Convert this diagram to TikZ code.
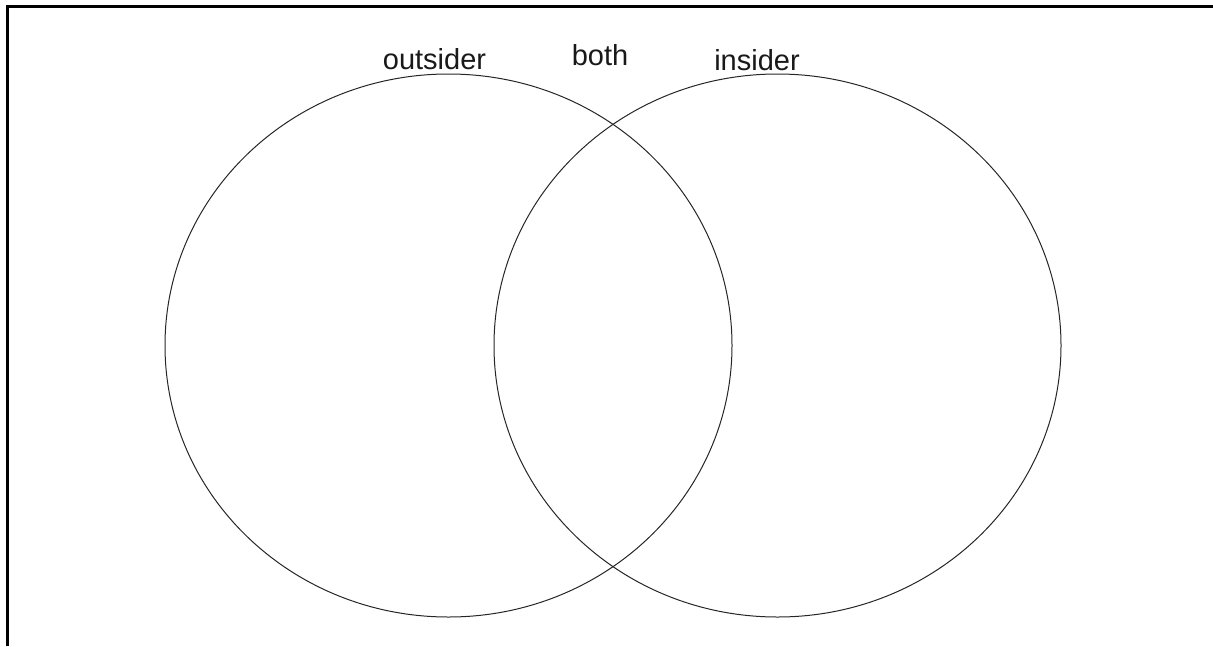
\documentclass[tikz,border=0pt]{standalone}
\usepackage{fontspec}
\setmainfont{Liberation Sans}
\usetikzlibrary{shapes.geometric}
\begin{document}
\begin{tikzpicture}[x=1pt,y=-1pt,
  setcircle/.style={ellipse, draw=black!85, line width=1pt, minimum width=567pt, minimum height=543pt, inner sep=0pt},
  setlabel/.style={anchor=base, inner sep=0pt, font=\fontsize{29}{33}\selectfont, text=black!90},
  frameline/.style={draw=black, line width=2.5pt}]
\useasboundingbox (0,0) rectangle (1213,646);
\coordinate (fbl) at (7.5,646);
\coordinate (ftl) at (7.5,6.5);
\coordinate (ftr) at (1213,6.5);
\draw[frameline] (fbl) -- (ftl) -- (ftr);
\node[setcircle] (outsider) at (448.5,345.5) {};
\node[setcircle] (insider) at (777.5,345.5) {};
\node[setlabel] (lout) at (434.5,69) {outsider};
\node[setlabel] (lboth) at (600,65) {both};
\node[setlabel] (lin) at (757,70) {insider};
\end{tikzpicture}
\end{document}
